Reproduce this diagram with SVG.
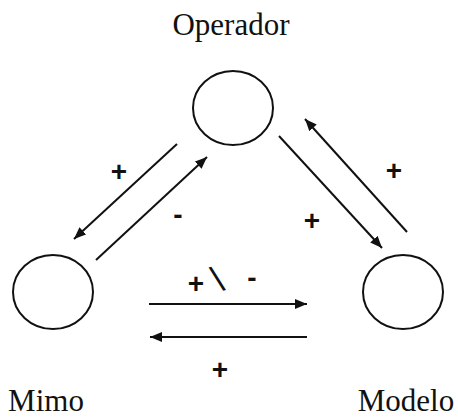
<svg xmlns="http://www.w3.org/2000/svg" width="458" height="418" viewBox="0 0 458 418">
  <defs>
    <marker id="head" viewBox="0 0 12 10" refX="12" refY="5" markerWidth="12" markerHeight="10" markerUnits="userSpaceOnUse" orient="auto">
      <path d="M0,0 L12,5 L0,10 Z" fill="#111"/>
    </marker>
    <style>
      .node { fill: none; stroke: #111; stroke-width: 2; }
      .name { font-family: "Liberation Serif", "Times New Roman", serif; font-size: 31px; fill: #111; text-anchor: middle; }
      .link { stroke: #111; stroke-width: 2; fill: none; marker-end: url(#head); }
      .sign { font-family: "Liberation Sans", Arial, sans-serif; font-size: 28px; font-weight: bold; fill: #111; text-anchor: middle; }
    </style>
  </defs>
  <rect width="458" height="418" fill="#fff"/>

  <g id="operador">
    <ellipse class="node" cx="233" cy="108" rx="40" ry="37"/>
    <text class="name" x="231" y="35">Operador</text>
  </g>
  <g id="mimo">
    <ellipse class="node" cx="53" cy="292" rx="40" ry="37"/>
    <text class="name" x="46" y="411">Mimo</text>
  </g>
  <g id="modelo">
    <ellipse class="node" cx="403" cy="292" rx="40" ry="37"/>
    <text class="name" x="406" y="411">Modelo</text>
  </g>

  <g id="connectors">
    <line class="link" x1="177" y1="144" x2="74" y2="239"/>
    <line class="link" x1="96" y1="260" x2="207" y2="157"/>
    <line class="link" x1="279" y1="136" x2="382" y2="248"/>
    <line class="link" x1="407" y1="232" x2="305" y2="119"/>
    <line class="link" x1="149" y1="304" x2="307" y2="304"/>
    <line class="link" x1="307" y1="337" x2="150" y2="337"/>
  </g>

  <g id="signs">
    <text class="sign" x="119" y="181">+</text>
    <text class="sign" x="178" y="224">-</text>
    <text class="sign" x="394" y="180">+</text>
    <text class="sign" x="312" y="230">+</text>
    <text class="sign" x="196" y="293">+</text>
    <text class="sign" x="252" y="287">-</text>
    <text class="sign" x="220" y="379">+</text>
    <text font-family="Liberation Sans, Arial, sans-serif" font-size="36" fill="#111" text-anchor="middle" transform="translate(221,291) rotate(-17)">\</text>
  </g>
</svg>
